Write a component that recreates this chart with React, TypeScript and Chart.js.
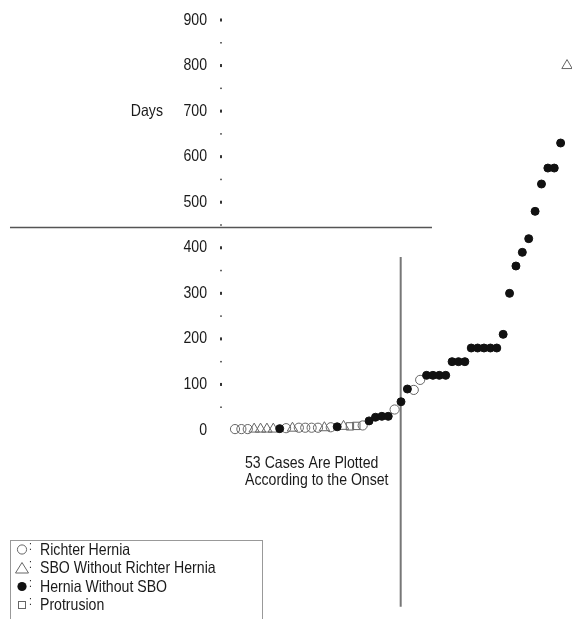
import React, { useEffect, useRef } from 'react';
import { Chart, registerables } from 'chart.js';

Chart.register(...registerables);

const FONT = '"Liberation Sans", Arial, sans-serif';
const TEXT_SIZE = 16.5;
const NARROW = 0.855; // horizontal squeeze to mimic a condensed face

// ---- DATA ----
// Case type: R = Richter hernia, S = SBO without Richter hernia, H = hernia without SBO, P = protrusion
const caseTypes = [
  'R', 'R', 'R', 'S', 'S', 'S', 'S', 'H',
  'R', 'S', 'R', 'R', 'R', 'R', 'S', 'R',
  'H', 'S', 'P', 'P', 'R', 'H', 'H', 'H', 'H', 'R', 'H',
  'H', 'R', 'R',
  'H', 'H', 'H', 'H',
  'H', 'H', 'H',
  'H', 'H', 'H', 'H', 'H',
  'H', 'H',
  'H', 'H', 'H', 'H', 'H', 'H', 'H', 'H',
  'S',
];
// Days until onset for each case
const days = [
  2, 2, 2, 2, 2, 2, 2, 3,
  4, 4, 5, 5, 5, 5, 5, 6,
  7, 8, 8, 9, 10, 20, 28, 30, 30, 45, 62,
  90, 88, 110,
  120, 120, 120, 120,
  150, 150, 150,
  180, 180, 180, 180, 180,
  210, 300,
  360, 390, 420, 480, 540, 575, 575, 630,
  800,
];
const yTickValues = [0, 100, 200, 300, 400, 500, 600, 700, 800, 900];
const yMinorTickValues = [50, 150, 250, 350, 450, 550, 650, 750, 850];
const legendTypes = ['R', 'S', 'H', 'P'];
const legendLabels = ['Richter Hernia', 'SBO Without Richter Hernia', 'Hernia Without SBO', 'Protrusion'];
const annotationLines = ['53 Cases Are Plotted', 'According to the Onset'];
const yAxisLabel = 'Days';
const yAxisLabelValue = 700;
const separatorValue = 445;
const onsetCaseValue = 25.95;

// ---- STYLES ----
const OPEN = '#666666';
const DARK = '#111111';
const typeStyle: Record<string, any> = {
  H: { pointStyle: 'circle', radius: 4, bg: DARK, border: DARK },
  R: { pointStyle: 'circle', radius: 4.6, bg: 'rgba(0,0,0,0)', border: OPEN },
  S: { pointStyle: 'triangle', radius: 6, bg: 'rgba(0,0,0,0)', border: OPEN },
  P: { pointStyle: 'rect', radius: 5.2, bg: 'rgba(0,0,0,0)', border: OPEN },
};

function narrowText(ctx: CanvasRenderingContext2D, text: string, x: number, y: number, align: CanvasTextAlign, size = TEXT_SIZE) {
  ctx.save();
  ctx.font = `${size}px ${FONT}`;
  ctx.textAlign = align;
  ctx.textBaseline = 'middle';
  ctx.translate(x, y);
  ctx.scale(NARROW, 1);
  ctx.fillText(text, 0, 0);
  ctx.restore();
}

function drawSymbol(ctx: CanvasRenderingContext2D, type: string, cx: number, cy: number) {
  ctx.save();
  ctx.lineWidth = 1;
  if (type === 'R') {
    ctx.strokeStyle = OPEN;
    ctx.beginPath();
    ctx.arc(cx, cy, 4.6, 0, Math.PI * 2);
    ctx.stroke();
  } else if (type === 'S') {
    ctx.strokeStyle = OPEN;
    ctx.beginPath();
    ctx.moveTo(cx, cy - 5.5);
    ctx.lineTo(cx + 6.5, cy + 5);
    ctx.lineTo(cx - 6.5, cy + 5);
    ctx.closePath();
    ctx.stroke();
  } else if (type === 'H') {
    ctx.fillStyle = DARK;
    ctx.beginPath();
    ctx.arc(cx, cy, 4.6, 0, Math.PI * 2);
    ctx.fill();
  } else {
    ctx.strokeStyle = OPEN;
    ctx.strokeRect(cx - 3.5, cy - 3.5, 7, 7);
  }
  ctx.restore();
}

const overlayPlugin = {
  id: 'overlay',
  beforeDatasetsDraw(chart: any) {
    const { ctx, scales } = chart;
    const x = scales.x;
    const y = scales.y;
    ctx.save();
    ctx.fillStyle = '#1a1a1a';
    // tick labels from the scale's own ticks
    y.ticks.forEach((t: any) => {
      narrowText(ctx, String(t.value), y.right - 18, y.getPixelForValue(t.value), 'right');
    });
    // tick marks
    const tx = y.right - 4;
    ctx.fillStyle = '#333';
    yTickValues.forEach((v) => {
      if (v === 0) return;
      const py = y.getPixelForValue(v);
      ctx.fillRect(tx - 1, py - 1.5, 2, 3);
    });
    yMinorTickValues.forEach((v) => {
      const py = y.getPixelForValue(v);
      ctx.fillRect(tx - 0.75, py - 0.75, 1.5, 1.5);
    });
    // separator line
    const sy = Math.round(y.getPixelForValue(separatorValue)) + 0.5;
    ctx.strokeStyle = '#555';
    ctx.lineWidth = 1.4;
    ctx.beginPath();
    ctx.moveTo(x.getPixelForValue(-35.24), sy);
    ctx.lineTo(x.getPixelForValue(30.85), sy);
    ctx.stroke();
    // onset vertical line
    const vx = x.getPixelForValue(onsetCaseValue);
    ctx.strokeStyle = '#777';
    ctx.lineWidth = 2;
    ctx.beginPath();
    ctx.moveTo(vx, y.getPixelForValue(380));
    ctx.lineTo(vx, y.getPixelForValue(-388));
    ctx.stroke();
    // axis label
    ctx.fillStyle = '#1a1a1a';
    narrowText(ctx, yAxisLabel, x.getPixelForValue(-11.28), y.getPixelForValue(yAxisLabelValue), 'right');
    // annotation
    const ax = x.getPixelForValue(1.57);
    annotationLines.forEach((t, i) => {
      narrowText(ctx, t, ax, y.getPixelForValue(-73.5 - i * 37.5), 'left');
    });
    // legend
    const lx = 10;
    const ly = 540;
    ctx.strokeStyle = '#999';
    ctx.lineWidth = 1;
    ctx.strokeRect(lx + 0.5, ly + 0.5, 252, 120);
    legendTypes.forEach((t, i) => {
      const cy = ly + 9.5 + i * 18.5;
      drawSymbol(ctx, t, lx + 12, cy);
      ctx.fillStyle = '#1a1a1a';
      narrowText(ctx, ':', lx + 19, cy - 3, 'left', 12);
      narrowText(ctx, legendLabels[i], lx + 30, cy + 0.5, 'left');
    });
    ctx.restore();
  },
};

export default function App() {
  const ref = useRef<HTMLCanvasElement | null>(null);
  useEffect(() => {
    document.body.style.margin = '0';
    const canvas = ref.current;
    if (!canvas) return;
    const datasets = ['H', 'R', 'S', 'P'].map((t) => {
      const st = typeStyle[t];
      const pts = days
        .map((d, i) => ({ x: i, y: d, t: caseTypes[i] }))
        .filter((p) => p.t === t)
        .map((p) => ({ x: p.x, y: p.y }));
      return {
        label: t,
        data: pts,
        pointStyle: st.pointStyle,
        pointRadius: st.radius,
        pointBackgroundColor: st.bg,
        pointBorderColor: st.border,
        pointBorderWidth: 1,
        showLine: false,
        clip: false as any,
      };
    });
    const chart = new Chart(canvas, {
      type: 'scatter',
      data: { datasets },
      options: {
        animation: false,
        responsive: false,
        devicePixelRatio: 1,
        layout: { autoPadding: false, padding: { top: 20, bottom: 189, left: 0, right: 0 } },
        plugins: { legend: { display: false }, tooltip: { enabled: false } },
        scales: {
          x: {
            type: 'linear',
            display: false,
            min: -1.566,
            max: 52.78,
          },
          y: {
            type: 'linear',
            min: 0,
            max: 900,
            afterFit: (s: any) => {
              s.width = 225;
            },
            afterBuildTicks: (s: any) => {
              s.ticks = yTickValues.map((v) => ({ value: v }));
            },
            grid: { display: false, drawTicks: false },
            border: { display: false },
            ticks: { display: false },
          },
        },
      },
      plugins: [overlayPlugin],
    });
    return () => chart.destroy();
  }, []);
  return <canvas ref={ref} width={572} height={619} style={{ display: 'block' }} />;
}
